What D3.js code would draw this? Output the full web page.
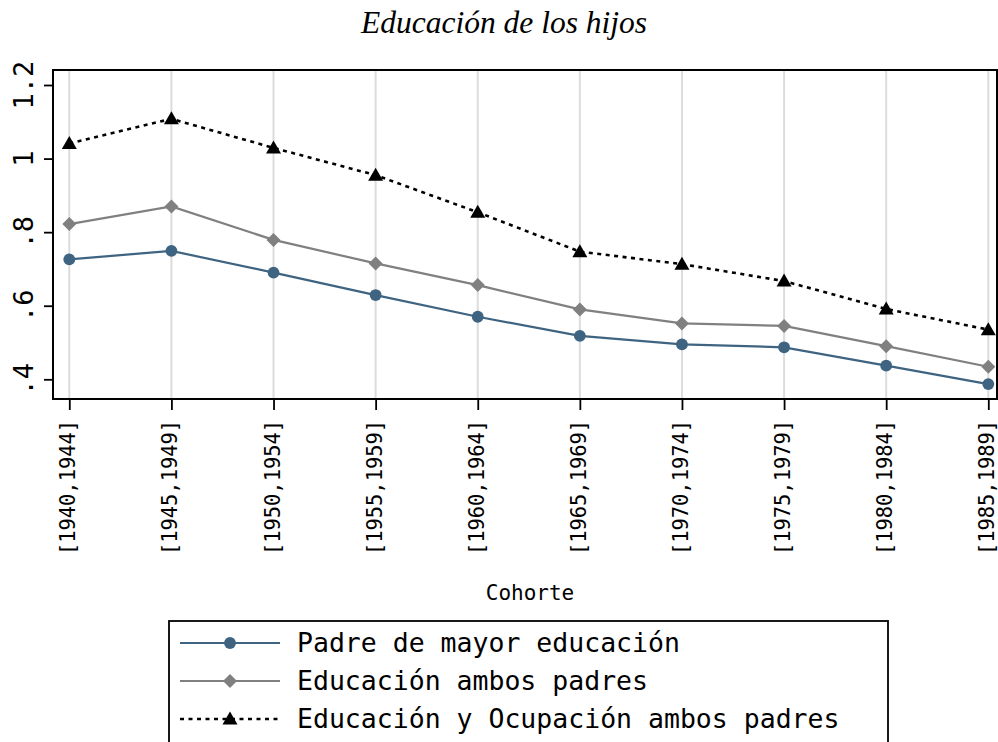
<!DOCTYPE html>
<html>
<head>
<meta charset="utf-8">
<script src="https://cdnjs.cloudflare.com/ajax/libs/d3/7.9.0/d3.min.js"></script>
<style>
  html, body { margin: 0; padding: 0; background: #fff; }
  svg { display: block; }
</style>
</head>
<body>
<svg id="chart" width="998" height="742"></svg>
<script>
// datos
const cohortes = ['[1940,1944]', '[1945,1949]', '[1950,1954]', '[1955,1959]', '[1960,1964]',
                  '[1965,1969]', '[1970,1974]', '[1975,1979]', '[1980,1984]', '[1985,1989]'];
const padreMayor = [0.726, 0.749, 0.690, 0.629, 0.570, 0.518, 0.495, 0.487, 0.437, 0.387];
const ambosPadres = [0.822, 0.870, 0.779, 0.715, 0.656, 0.590, 0.552, 0.545, 0.490, 0.434];
const educOcup = [1.041, 1.108, 1.029, 0.955, 0.854, 0.747, 0.713, 0.667, 0.591, 0.535];
const yTicks = [0.4, 0.6, 0.8, 1.0, 1.2];
const yTickLabels = ['.4', '.6', '.8', '1', '1.2'];

const MONO = '"DejaVu Sans Mono", "Liberation Mono", monospace';
const BLUE = '#3e6481', GRAY = '#808080', BLACK = '#000';

const series = [
  { name: 'Padre de mayor educación', values: padreMayor, color: BLUE, marker: 'circle', dash: null },
  { name: 'Educación ambos padres', values: ambosPadres, color: GRAY, marker: 'diamond', dash: null },
  { name: 'Educación y Ocupación ambos padres', values: educOcup, color: BLACK, marker: 'triangle', dash: '4,4.5' },
];

const svg = d3.select('#chart');
const L = 53, R = 997, T = 70, B = 399;

const x = d3.scalePoint().domain(cohortes).range([69.3, 988.3]);
const y = d3.scaleLinear().domain([0.4, 1.2]).range([379.3, 85]);

// título
svg.append('text').attr('x', 504).attr('y', 33).attr('text-anchor', 'middle')
  .style('font-family', '"Liberation Serif", "Times New Roman", serif')
  .style('font-style', 'italic').style('font-size', '31.5px').text('Educación de los hijos');

// rejilla vertical
svg.append('g').selectAll('line').data(cohortes).join('line')
  .attr('x1', d => x(d)).attr('x2', d => x(d)).attr('y1', T).attr('y2', B)
  .attr('stroke', '#dcdcdc').attr('stroke-width', 2);

// eje y
const yAxis = svg.append('g').attr('transform', `translate(${L},0)`)
  .call(d3.axisLeft(y).tickValues(yTicks).tickSize(9).tickFormat(''));
yAxis.select('.domain').remove();
yAxis.selectAll('line').attr('stroke', '#000').attr('stroke-width', 1.8);
svg.append('g').selectAll('text').data(yTicks).join('text')
  .attr('transform', d => `translate(33,${y(d)}) rotate(-90)`)
  .attr('text-anchor', 'middle')
  .style('font-family', MONO).style('font-size', '27px')
  .text((d, i) => yTickLabels[i]);

// eje x
const xAxis = svg.append('g').attr('transform', `translate(0,${B})`)
  .call(d3.axisBottom(x).tickSize(11).tickFormat(''));
xAxis.select('.domain').remove();
xAxis.selectAll('line').attr('stroke', '#000').attr('stroke-width', 1.8);
svg.append('g').selectAll('text').data(cohortes).join('text')
  .attr('transform', d => `translate(${x(d) + 6},420) rotate(-90)`)
  .attr('text-anchor', 'end')
  .attr('textLength', 135).attr('lengthAdjust', 'spacingAndGlyphs')
  .style('font-family', MONO).style('font-size', '22px')
  .text(d => d);

svg.append('text').attr('x', 530).attr('y', 600).attr('text-anchor', 'middle')
  .style('font-family', MONO).style('font-size', '21px').text('Cohorte');

// marco
svg.append('rect').attr('x', L).attr('y', T).attr('width', R - L).attr('height', B - T)
  .attr('fill', 'none').attr('stroke', '#000').attr('stroke-width', 2);

function markerPath(type) {
  if (type === 'circle') return d3.symbol(d3.symbolCircle, 110)();
  if (type === 'diamond') return 'M0,-7L7,0L0,7L-7,0Z';
  return 'M0,-7.5L7.5,5.5L-7.5,5.5Z';
}

const line = d3.line().x((d, i) => x(cohortes[i])).y(d => y(d));

series.forEach(s => {
  const g = svg.append('g');
  g.append('path').datum(s.values).attr('d', line)
    .attr('fill', 'none').attr('stroke', s.color).attr('stroke-width', s.dash ? 2.6 : 2.2)
    .attr('stroke-dasharray', s.dash);
  g.selectAll('path.m').data(s.values).join('path').attr('class', 'm')
    .attr('transform', (d, i) => `translate(${x(cohortes[i])},${y(d)})`)
    .attr('d', markerPath(s.marker)).attr('fill', s.color);
});

// leyenda
const leg = svg.append('g');
leg.append('rect').attr('x', 169).attr('y', 621).attr('width', 719).attr('height', 140)
  .attr('fill', '#fff').attr('stroke', '#000').attr('stroke-width', 1.8);
series.forEach((s, i) => {
  const ly = 643 + i * 38;
  leg.append('line').attr('x1', 180).attr('x2', 280).attr('y1', ly).attr('y2', ly)
    .attr('stroke', s.color).attr('stroke-width', s.dash ? 2.6 : 2.2).attr('stroke-dasharray', s.dash);
  leg.append('path').attr('transform', `translate(230,${ly})`).attr('d', markerPath(s.marker)).attr('fill', s.color);
  leg.append('text').attr('x', 297).attr('y', ly + 9)
    .style('font-family', MONO).style('font-size', '26.5px').text(s.name);
});
</script>
</body>
</html>
